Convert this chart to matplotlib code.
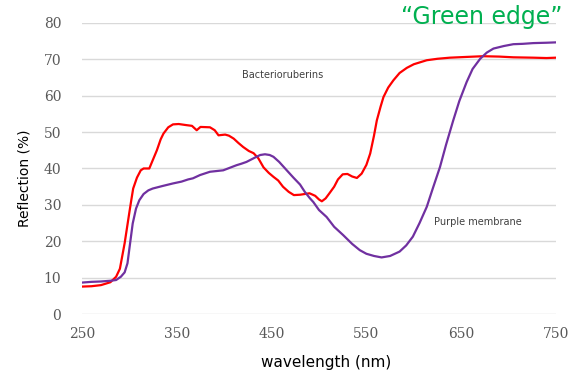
import matplotlib
matplotlib.use("Agg")
import matplotlib.pyplot as plt

# Data
red_nm = [250, 260, 270, 280, 286, 290, 295, 300, 302, 304, 308, 312, 315, 321, 325, 329, 333, 336,
          341, 346, 352, 360, 366, 371, 375, 385, 390, 394, 401, 405, 410, 415, 420, 426, 431, 436,
          441.5, 447, 452, 457, 462, 468, 473.5, 480, 485, 490, 496, 500, 503, 507, 511, 516, 520,
          525, 530, 535, 540, 545, 550, 554, 558, 561, 565, 568, 573, 578.5, 585, 592.6, 600, 613.7,
          625, 638, 655, 673, 690, 705, 726, 740, 750]
red_val = [7.6, 7.7, 8.0, 8.8, 10.3, 12.5, 19.5, 28, 31.3, 34.5, 37.5, 39.5, 40, 40, 42.5, 45, 48, 49.6,
           51.3, 52.1, 52.2, 51.9, 51.7, 50.5, 51.4, 51.3, 50.5, 49.1, 49.3, 49.0, 48.2, 47, 45.9, 44.8, 44.2, 42.8,
           40.3, 38.8, 37.7, 36.7, 35, 33.6, 32.7, 32.8, 33.0, 33.2, 32.5, 31.5, 31, 31.8, 33.2, 35, 37,
           38.4, 38.5, 37.8, 37.4, 38.6, 41, 44.1, 49, 53.2, 57, 59.6, 62.2, 64.2, 66.2, 67.6, 68.6, 69.7,
           70.1, 70.4, 70.6, 70.8, 70.7, 70.5, 70.4, 70.3, 70.4]

purple_nm = [250, 260, 270, 280, 286, 291, 295, 298, 300, 303.5, 307, 310.5, 315, 320, 324.6, 335, 346,
             355, 362, 367, 374.5, 385, 392, 399, 406, 413, 418, 423.5, 428, 434, 438, 443, 448, 452,
             458, 466, 473, 480, 485, 490.5, 494, 500, 508, 516, 525.6, 535, 543, 550, 558, 566, 575,
             585, 592, 599, 606, 613.7, 620, 627.6, 634, 641.6, 648, 655.7, 662, 670, 677, 684, 695,
             705, 715, 726, 740, 750]
purple_val = [8.7, 8.9, 9.0, 9.2, 9.4, 10.3, 11.5, 14, 18, 24.9, 29, 31.3, 33, 34, 34.5, 35.2, 35.9,
              36.4, 37, 37.3, 38.2, 39.1, 39.3, 39.5, 40.2, 40.9, 41.3, 41.8, 42.4, 43.2, 43.7, 43.9, 43.7, 43.2,
              41.8, 39.5, 37.5, 35.6, 33.6, 31.8, 30.8, 28.6, 26.7, 24.0, 21.7, 19.3, 17.6, 16.6, 16.0, 15.6, 16.0,
              17.2, 18.9, 21.3, 25, 29.5, 34.5, 40.4, 46.5, 53.2, 58.5, 63.7, 67.3, 70.1, 71.8, 72.9, 73.6,
              74.1, 74.2, 74.4, 74.5, 74.6]

x_ticks = [250, 350, 450, 550, 650, 750]
y_ticks = [0, 10, 20, 30, 40, 50, 60, 70, 80]

W, H = 581, 375
fig = plt.figure(figsize=(5.81, 3.75), dpi=100)
ax = fig.add_axes([0.1411, 0.1619, 0.8159, 0.7776])

ax.plot(red_nm, red_val, color="#FF0000", lw=1.6, zorder=3)
ax.plot(purple_nm, purple_val, color="#7030A0", lw=1.6, zorder=3)

ax.set_xlim(250, 750)
ax.set_ylim(0, 80)
ax.set_xticks(x_ticks)
ax.set_yticks(y_ticks)
ax.grid(axis="y", color="#D9D9D9", lw=1)
ax.set_axisbelow(True)
for s in ax.spines.values():
    s.set_visible(False)
ax.tick_params(length=0, labelsize=10, labelcolor="#595959")
ax.tick_params(axis="y", pad=15)
ax.tick_params(axis="x", pad=9)
for lab in ax.get_xticklabels() + ax.get_yticklabels():
    lab.set_family("DejaVu Serif")

fig.text(326 / W, 1 - 363 / H, "wavelength (nm)", fontsize=11, family="DejaVu Sans",
         color="black", ha="center", va="center")
fig.text(25 / W, 1 - 178 / H, "Reflection (%)", fontsize=10, family="DejaVu Sans",
         color="black", ha="center", va="center", rotation=90)

ax.text(462, 65.6, "Bacterioruberins", fontsize=7, color="#404040", ha="center", va="center")
ax.text(668, 25.3, "Purple membrane", fontsize=7, color="#404040", ha="center", va="center")

fig.text(482 / W, 1 - 17 / H, "\u201cGreen edge\u201d", fontsize=17, color="#00B050",
         ha="center", va="center", family="DejaVu Sans")

fig.savefig("out.png", dpi=100)
